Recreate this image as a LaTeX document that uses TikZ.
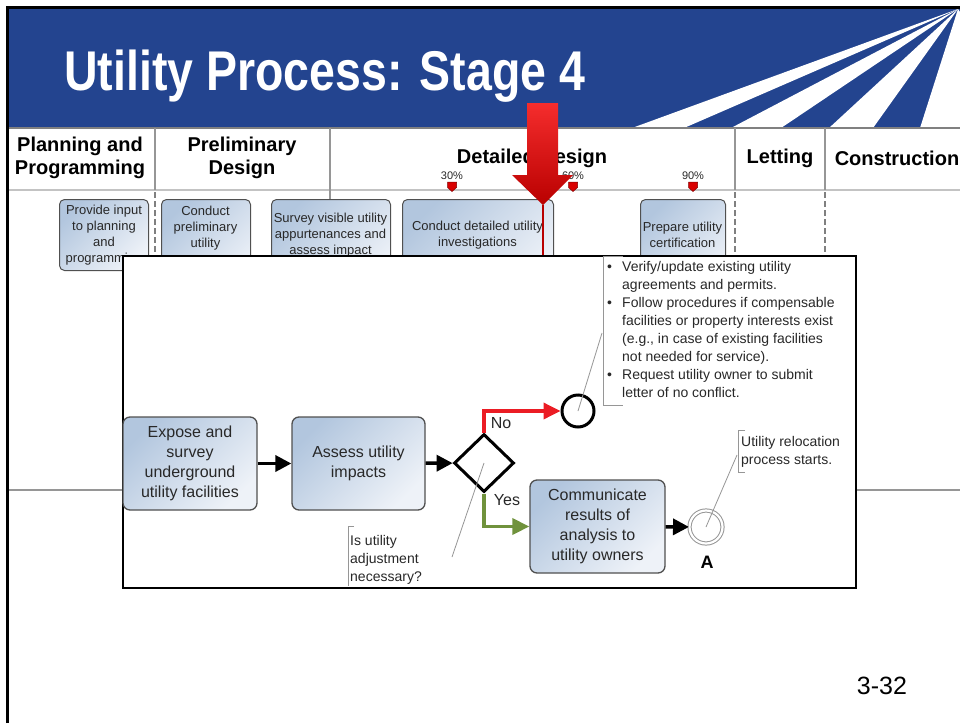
\documentclass[tikz,border=0pt]{standalone}
\usepackage{fontspec}
\setmainfont{Liberation Sans}
\usetikzlibrary{arrows.meta,shapes.geometric,calc}
\definecolor{band}{RGB}{35,68,143}
\definecolor{boxA}{RGB}{178,198,222}
\definecolor{boxB}{RGB}{238,242,248}
\definecolor{boxline}{RGB}{80,80,80}
\definecolor{nored}{RGB}{235,28,36}
\definecolor{yesgreen}{RGB}{112,146,60}
\definecolor{gridgray}{RGB}{150,150,150}
\definecolor{lightgrid}{RGB}{195,195,195}
\definecolor{annot}{RGB}{150,150,150}
\definecolor{txt}{RGB}{40,40,40}
\definecolor{arrtop}{RGB}{245,45,45}
\definecolor{arrbot}{RGB}{185,0,0}
\tikzset{
  tbox/.style={draw=boxline, line width=1pt, rounded corners=5pt, top color=boxA, bottom color=boxB, shading angle=45, inner sep=0pt},
  ttext/.style={align=center, font=\fontsize{13}{16}\selectfont, text=txt, inner sep=0pt},
  task/.style={draw=boxline, line width=1.3pt, rounded corners=7pt, top color=boxA, bottom color=boxB, shading angle=45, align=center, font=\fontsize{16}{20}\selectfont, text=txt, inner sep=0pt},
  hdr/.style={align=center, font=\fontsize{20}{23}\selectfont\bfseries, text=black, inner sep=0pt},
  pct/.style={font=\fontsize{11}{13}\selectfont, text=txt, inner sep=0pt},
  flow/.style={line width=3.5pt, -{Triangle[length=16pt,width=16pt]}},
  annotline/.style={draw=annot, line width=0.8pt},
  annottext/.style={align=left, font=\fontsize{14}{18}\selectfont, text=txt, inner sep=0pt},
  marker/.style={fill=red!85!black, draw=red!50!black, line width=0.5pt},
  gridv/.style={draw=gridgray, line width=1.5pt},
  gridd/.style={draw=gray, line width=1.5pt, dash pattern=on 6pt off 3pt},
}
\begin{document}
\begin{tikzpicture}[x=1pt,y=-1pt]
\useasboundingbox (0,0) rectangle (960,723);
\fill[white] (0,0) rectangle (960,723);
% title band
\fill[band] (8,8) rectangle (960,128);
\fill[white] (958,9) -- (632,128) -- (684,128) -- cycle;
\fill[white] (958,9) -- (731,128) -- (781,128) -- cycle;
\fill[white] (958,9) -- (829,128) -- (873,128) -- cycle;
\fill[white] (958,9) -- (920,128) -- (960,128) -- (960,12) -- cycle;
\draw[line width=2.5pt] (7.5,723) -- (7.5,7.5) -- (960,7.5);
\node[anchor=base west, text=white, inner sep=0pt] (title) at (64,90)
  {\scalebox{0.83}[1]{\fontsize{56}{56}\selectfont\bfseries Utility Process: Stage 4}};
% table grid
\draw[draw=gray, line width=1.5pt] (9,128) -- (960,128);
\draw[draw=lightgrid, line width=2pt] (9,190) -- (960,190);
\draw[draw=gridgray, line width=1.2pt] (9,490) -- (960,490);
\draw[gridv] (155,128) -- (155,190);
\draw[gridv] (330,128) -- (330,199);
\draw[gridv] (735,128) -- (735,190);
\draw[gridv] (825,128) -- (825,190);
\draw[gridd] (155,192) -- (155,255);
\draw[gridd] (735,192) -- (735,255);
\draw[gridd] (825,192) -- (825,255);
% headers
\node[hdr] (h1) at (80,158) {Planning and\\Programming};
\node[hdr] (h2) at (242,158) {Preliminary\\Design};
\node[hdr] (h3) at (532,158) {Detailed Design};
\node[hdr] (h4) at (780,158) {Letting};
\node[hdr] (h5) at (897,158) {Construction};
% milestones
\node[pct] (p30) at (452,176) {30\%};
\node[pct] (p60) at (573,176) {60\%};
\node[pct] (p90) at (693,176) {90\%};
\foreach \mx in {452,573,693}{
  \draw[marker] (\mx-4.5,182) -- (\mx+4.5,182) -- (\mx+4.5,187.5) -- (\mx,191.5) -- (\mx-4.5,187.5) -- cycle;
}
% table boxes
\node[tbox, minimum width=89pt, minimum height=71pt, anchor=north west] (b1) at (59,199) {};
\node[ttext] (b1t) at (b1.center) {Provide input\\to planning\\and\\programming};
\node[tbox, minimum width=89pt, minimum height=90pt, anchor=north west] (b2) at (161,199) {};
\node[ttext] (b2t) at (205.5,228) {Conduct\\preliminary\\utility};
\node[tbox, minimum width=119pt, minimum height=90pt, anchor=north west] (b3) at (271,199) {};
\node[ttext] (b3t) at (330.5,235) {Survey visible utility\\appurtenances and\\assess impact};
\node[tbox, minimum width=151pt, minimum height=90pt, anchor=north west] (b4) at (402,199) {};
\node[ttext] (b4t) at (477.5,235) {Conduct detailed utility\\investigations};
\node[tbox, minimum width=85pt, minimum height=90pt, anchor=north west] (b5) at (640,199) {};
\node[ttext] (b5t) at (682.5,235) {Prepare utility\\certification};
% red arrow
\shade[top color=arrtop, bottom color=arrbot]
  (527,103) -- (558,103) -- (558,175) -- (573,175) -- (543,205) -- (512,175) -- (527,175) -- cycle;
\coordinate (rtip) at (543,205);
% overlay
\node[draw=black, line width=1.5pt, fill=white, minimum width=733pt, minimum height=332pt, anchor=north west, inner sep=0pt] (ov) at (122,255) {};
\draw[draw=arrbot, line width=2pt] (rtip) -- (rtip |- ov.north);
% process
\node[task, minimum width=134pt, minimum height=93pt] (e1) at (190,463.5) {Expose and\\survey\\underground\\utility facilities};
\node[task, minimum width=133pt, minimum height=93pt] (e2) at (358.5,463.5) {Assess utility\\impacts};
\node[diamond, draw=black, line width=3pt, fill=white, minimum width=60pt, minimum height=58pt, inner sep=0pt] (gw) at (484,463) {};
\node[circle, draw=black, line width=3pt, fill=white, minimum size=32pt, inner sep=0pt] (noend) at (578,411) {};
\node[task, minimum width=135pt, minimum height=93pt] (e3) at (597.5,526.5) {Communicate\\results of\\analysis to\\utility owners};
\node[circle, draw=annot, line width=1pt, double=white, double distance=2.2pt, fill=white, minimum size=33pt, inner sep=0pt] (endA) at (706,527) {};
\node[font=\fontsize{18}{20}\selectfont\bfseries, inner sep=0pt] (lblA) at (707,562) {A};
\draw[flow] (e1) -- (e2);
\draw[flow] (e2) -- (gw);
\draw[flow, draw=nored, -{Triangle[length=17pt,width=16pt]}] (gw.north) |- (noend.west);
\draw[flow, draw=yesgreen, -{Triangle[length=17pt,width=16pt]}] (gw.south) |- (e3.west);
\draw[flow] (e3) -- (endA);
\node[font=\fontsize{16}{18}\selectfont, text=txt, inner sep=0pt] (lno) at (501,423) {No};
\node[font=\fontsize{16}{18}\selectfont, text=txt, inner sep=0pt] (lyes) at (507,500) {Yes};
% annotations
\coordinate (nq) at (602,333);
\coordinate (ga) at (452,557);
\coordinate (ra) at (737,455);
\draw[annotline] (noend.center) -- (nq);
\draw[annotline] (gw.center) -- (ga);
\draw[annotline] (endA.center) -- (ra);
\draw[annotline] (623,256) -- (603,256) -- (603,405) -- (623,405);
\draw[annotline] (354,526) -- (348,526) -- (348,586);
\draw[annotline] (745,430) -- (738,430) -- (738,472) -- (745,472);
\node[annottext, anchor=north west] (notes) at (607,261) {%
\makebox[15pt][l]{\textbullet}Verify/update existing utility\\
\hspace*{15pt}agreements and permits.\\
\makebox[15pt][l]{\textbullet}Follow procedures if compensable\\
\hspace*{15pt}facilities or property interests exist\\
\hspace*{15pt}(e.g., in case of existing facilities\\
\hspace*{15pt}not needed for service).\\
\makebox[15pt][l]{\textbullet}Request utility owner to submit\\
\hspace*{15pt}letter of no conflict.};
\node[annottext, anchor=north west] (qtext) at (350,535) {Is utility\\adjustment\\necessary?};
\node[annottext, anchor=north west] (rtext) at (741,436) {Utility relocation\\process starts.};
% page number
\node[font=\fontsize{25}{28}\selectfont, inner sep=0pt] (pg) at (882,686) {3-32};
\end{tikzpicture}
\end{document}
